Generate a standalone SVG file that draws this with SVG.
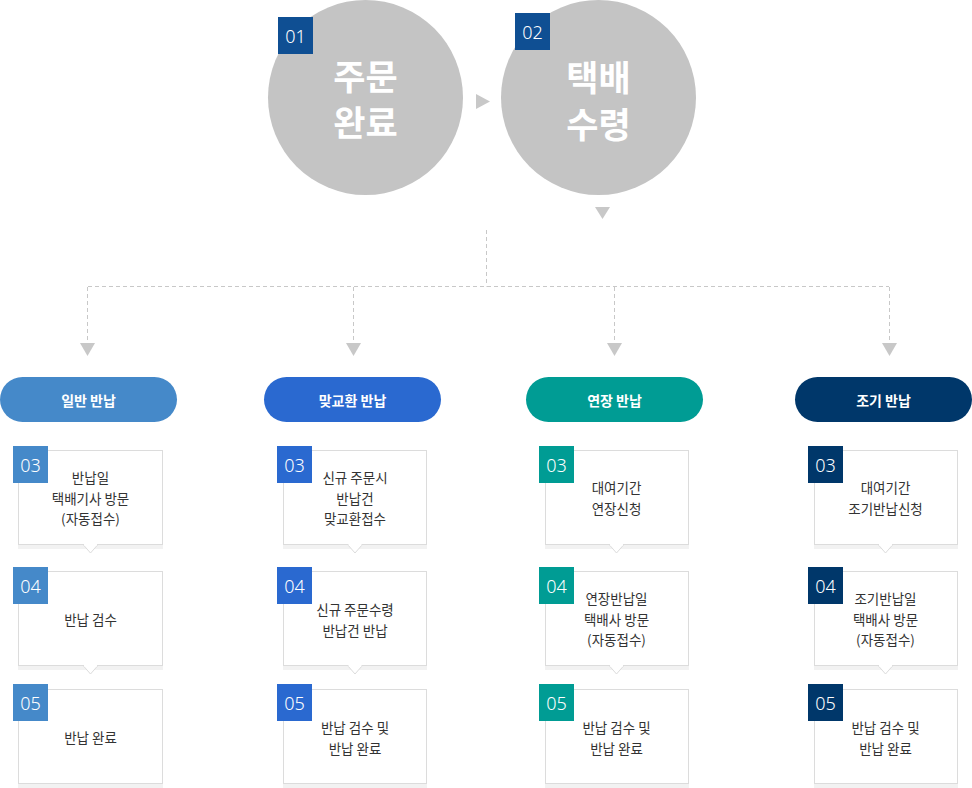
<svg xmlns="http://www.w3.org/2000/svg" width="972" height="788" viewBox="0 0 972 788">
<style>
.kr{font-family:"Noto Sans CJK KR","Noto Sans",sans-serif}
.big{font-size:35px;font-weight:700;fill:#fff;text-anchor:middle}
.num{font-family:"Noto Sans","Open Sans",sans-serif;font-size:18px;font-weight:300;fill:#fff;text-anchor:middle;dominant-baseline:central}
.pill{font-size:14px;font-weight:700;fill:#fff;text-anchor:middle;dominant-baseline:central}
.bt{font-size:13.5px;fill:#333;text-anchor:middle;dominant-baseline:central}
.box{fill:#fff;stroke:#dcdcdc;stroke-width:1}
.sh{fill:#f2f2f2}
.dash{fill:none;stroke:#c8c8c8;stroke-width:1;stroke-dasharray:4 3}
.tri{fill:#c8c8c8}
.c1{fill:#4589c9}.c2{fill:#2a69d0}.c3{fill:#009c94}.c4{fill:#00376a}
</style>
<defs>
<g id="notch"><path d="M-7,0 L0,8 L7,0" fill="#fff" stroke="#dcdcdc"/><rect x="-6.5" y="-1" width="13" height="1.6" fill="#fff"/></g>
</defs>

<g id="connectors">
<polygon class="tri" points="476,94 490,101.5 476,109"/>
<polygon class="tri" points="595,207 610,207 602.5,219"/>
<path class="dash" d="M486.5,230 V286.5 M88,286.5 H889 M87.5,287 V341 M353.5,287 V341 M614.5,287 V341 M889.5,287 V341"/>
<polygon class="tri" points="80,343 95,343 87.5,356"/>
<polygon class="tri" points="346,343 361,343 353.5,356"/>
<polygon class="tri" points="607,343 622,343 614.5,356"/>
<polygon class="tri" points="882,343 897,343 889.5,356"/>
</g>

<g id="step01">
<circle cx="365.5" cy="97.5" r="97.5" fill="#c4c4c4"/>
<rect x="278" y="17" width="35" height="37" fill="#0f4f93"/>
<text class="num" x="295.5" y="35.5">01</text>
<text class="kr big" x="365.5" y="90">주문</text>
<text class="kr big" x="365.5" y="136">완료</text>
</g>
<g id="step02">
<circle cx="598.5" cy="97.5" r="97.5" fill="#c4c4c4"/>
<rect x="515" y="13" width="35" height="37" fill="#0f4f93"/>
<text class="num" x="532.5" y="31.5">02</text>
<text class="kr big" x="598.5" y="91">택배</text>
<text class="kr big" x="598.5" y="138">수령</text>
</g>

<!-- Column 1 -->
<g id="col1">
<g id="pill1"><rect x="0" y="377" width="177" height="45" rx="22.5" class="c1"/><text class="kr pill" x="88.5" y="399.5">일반 반납</text></g>
<g id="c1s03"><rect class="sh" x="18" y="545" width="145" height="4"/><rect class="box" x="18.5" y="450.5" width="144" height="94"/><use href="#notch" x="90.5" y="545"/><rect class="c1" x="13" y="446" width="35" height="37"/><text class="num" x="30.5" y="464.5">03</text>
<text class="kr bt" x="90.5" y="477">반납일</text><text class="kr bt" x="90.5" y="497.5">택배기사 방문</text><text class="kr bt" x="90.5" y="518">(자동접수)</text></g>
<g id="c1s04"><rect class="sh" x="18" y="666" width="145" height="4"/><rect class="box" x="18.5" y="571.5" width="144" height="94"/><use href="#notch" x="90.5" y="666"/><rect class="c1" x="13" y="567" width="35" height="37"/><text class="num" x="30.5" y="585.5">04</text>
<text class="kr bt" x="90.5" y="619">반납 검수</text></g>
<g id="c1s05"><rect class="sh" x="18" y="784" width="145" height="4"/><rect class="box" x="18.5" y="689.5" width="144" height="94"/><rect class="c1" x="13" y="684" width="35" height="37"/><text class="num" x="30.5" y="702.5">05</text>
<text class="kr bt" x="90.5" y="737">반납 완료</text></g>
</g>

<!-- Column 2 -->
<g id="col2">
<g id="pill2"><rect x="264" y="377" width="177" height="45" rx="22.5" class="c2"/><text class="kr pill" x="352.5" y="399.5">맞교환 반납</text></g>
<g id="c2s03"><rect class="sh" x="283" y="545" width="144" height="4"/><rect class="box" x="283.5" y="450.5" width="143" height="94"/><use href="#notch" x="355" y="545"/><rect class="c2" x="277" y="446" width="35" height="37"/><text class="num" x="294.5" y="464.5">03</text>
<text class="kr bt" x="355" y="477">신규 주문시</text><text class="kr bt" x="355" y="497.5">반납건</text><text class="kr bt" x="355" y="518">맞교환접수</text></g>
<g id="c2s04"><rect class="sh" x="283" y="666" width="144" height="4"/><rect class="box" x="283.5" y="571.5" width="143" height="94"/><use href="#notch" x="355" y="666"/><rect class="c2" x="277" y="567" width="35" height="37"/><text class="num" x="294.5" y="585.5">04</text>
<text class="kr bt" x="355" y="609">신규 주문수령</text><text class="kr bt" x="355" y="629.5">반납건 반납</text></g>
<g id="c2s05"><rect class="sh" x="283" y="784" width="144" height="4"/><rect class="box" x="283.5" y="689.5" width="143" height="94"/><rect class="c2" x="277" y="684" width="35" height="37"/><text class="num" x="294.5" y="702.5">05</text>
<text class="kr bt" x="355" y="727">반납 검수 및</text><text class="kr bt" x="355" y="747.5">반납 완료</text></g>
</g>

<!-- Column 3 -->
<g id="col3">
<g id="pill3"><rect x="526" y="377" width="177" height="45" rx="22.5" class="c3"/><text class="kr pill" x="614.5" y="399.5">연장 반납</text></g>
<g id="c3s03"><rect class="sh" x="545" y="545" width="144" height="4"/><rect class="box" x="545.5" y="450.5" width="143" height="94"/><use href="#notch" x="616.5" y="545"/><rect class="c3" x="539" y="446" width="35" height="37"/><text class="num" x="556.5" y="464.5">03</text>
<text class="kr bt" x="616.5" y="487">대여기간</text><text class="kr bt" x="616.5" y="507.5">연장신청</text></g>
<g id="c3s04"><rect class="sh" x="545" y="666" width="144" height="4"/><rect class="box" x="545.5" y="571.5" width="143" height="94"/><use href="#notch" x="616.5" y="666"/><rect class="c3" x="539" y="567" width="35" height="37"/><text class="num" x="556.5" y="585.5">04</text>
<text class="kr bt" x="616.5" y="598">연장반납일</text><text class="kr bt" x="616.5" y="618.5">택배사 방문</text><text class="kr bt" x="616.5" y="639">(자동접수)</text></g>
<g id="c3s05"><rect class="sh" x="545" y="784" width="144" height="4"/><rect class="box" x="545.5" y="689.5" width="143" height="94"/><rect class="c3" x="539" y="684" width="35" height="37"/><text class="num" x="556.5" y="702.5">05</text>
<text class="kr bt" x="616.5" y="727">반납 검수 및</text><text class="kr bt" x="616.5" y="747.5">반납 완료</text></g>
</g>

<!-- Column 4 -->
<g id="col4">
<g id="pill4"><rect x="795" y="377" width="177" height="45" rx="22.5" class="c4"/><text class="kr pill" x="883.5" y="399.5">조기 반납</text></g>
<g id="c4s03"><rect class="sh" x="814" y="545" width="144" height="4"/><rect class="box" x="814.5" y="450.5" width="143" height="94"/><use href="#notch" x="885.5" y="545"/><rect class="c4" x="808" y="446" width="35" height="37"/><text class="num" x="825.5" y="464.5">03</text>
<text class="kr bt" x="885.5" y="487">대여기간</text><text class="kr bt" x="885.5" y="507.5">조기반납신청</text></g>
<g id="c4s04"><rect class="sh" x="814" y="666" width="144" height="4"/><rect class="box" x="814.5" y="571.5" width="143" height="94"/><use href="#notch" x="885.5" y="666"/><rect class="c4" x="808" y="567" width="35" height="37"/><text class="num" x="825.5" y="585.5">04</text>
<text class="kr bt" x="885.5" y="598">조기반납일</text><text class="kr bt" x="885.5" y="618.5">택배사 방문</text><text class="kr bt" x="885.5" y="639">(자동접수)</text></g>
<g id="c4s05"><rect class="sh" x="814" y="784" width="144" height="4"/><rect class="box" x="814.5" y="689.5" width="143" height="94"/><rect class="c4" x="808" y="684" width="35" height="37"/><text class="num" x="825.5" y="702.5">05</text>
<text class="kr bt" x="885.5" y="727">반납 검수 및</text><text class="kr bt" x="885.5" y="747.5">반납 완료</text></g>
</g>
</svg>
